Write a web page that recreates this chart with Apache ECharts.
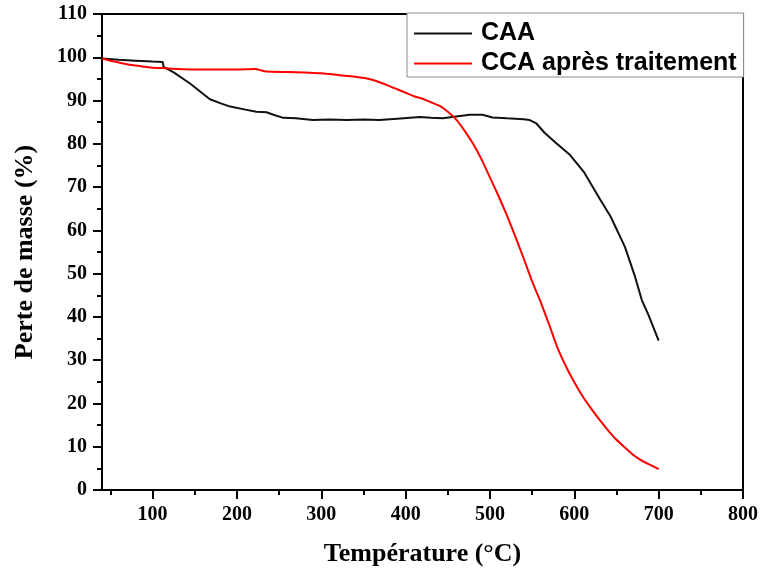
<!DOCTYPE html>
<html>
<head>
<meta charset="utf-8">
<script src="https://cdn.jsdelivr.net/npm/echarts@6/dist/echarts.min.js"></script>
<style>
html,body{margin:0;padding:0;background:#fff;}
#chart{width:761px;height:573px;}
</style>
</head>
<body>
<div id="chart"></div>
<script>
// Temperature (°C) / mass (%) pairs
var caaTemp = [40,60,80,100,112,113,125,144,160,168,180,192,210,223,235,245,255,270,290,310,330,350,369,390,417,430,444,460,476,491,503,520,540,547,555,565,579,595,611,631,643,660,672,680,688,700];
var caaMass = [99.7,99.4,99.2,99.0,98.9,97.8,96.5,94.0,91.5,90.3,89.4,88.6,87.9,87.4,87.3,86.6,86.0,85.9,85.5,85.6,85.5,85.6,85.5,85.8,86.2,86.0,85.9,86.3,86.7,86.7,86.1,85.9,85.7,85.5,84.7,82.5,80.1,77.4,73.6,67.0,63.2,56.2,49.3,43.9,40.4,34.5];

var ccaTemp = [40,50,60,70,80,90,100,112,130,150,180,200,222,228,235,260,280,300,320,340,354,365,380,390,400,410,420,430,440,450,460,470,480,490,500,510,520,530,540,550,560,570,580,590,600,610,620,630,640,650,660,670,680,690,700];
var ccaMass = [99.7,99.2,98.8,98.4,98.1,97.8,97.6,97.5,97.3,97.2,97.2,97.2,97.3,97.0,96.7,96.6,96.5,96.3,95.9,95.5,95.1,94.5,93.4,92.6,91.8,91.0,90.4,89.6,88.8,87.4,85.6,83.0,80.0,76.4,72.2,68.0,63.5,58.6,53.5,48.2,43.5,38.3,32.9,28.6,24.9,21.6,18.8,16.2,13.8,11.6,9.8,8.1,6.8,5.8,4.8];

var xMajorTicks = [100,200,300,400,500,600,700,800];
var xMinorTicks = [50,150,250,350,450,550,650,750];
var seriesNames = ['CAA','CCA après traitement'];

function pairs(xs, ys){ return xs.map(function(x,i){ return [x, ys[i]]; }); }

var serif = '"Liberation Serif", "Times New Roman", serif';
var sans = '"Liberation Sans", Arial, sans-serif';

var chart = echarts.init(document.getElementById('chart'));
chart.setOption({
  animation: false,
  backgroundColor: '#fff',
  grid: { left: 102, right: 17, top: 14, bottom: 83, show: true, borderColor: '#000', borderWidth: 2, backgroundColor: 'transparent' },
  legend: {
    orient: 'vertical', left: 407, top: 13, icon: 'rect',
    padding: [8, 7, 1, 7], itemGap: 5, itemWidth: 58, itemHeight: 2,
    backgroundColor: '#fff', borderColor: '#8a8a8a', borderWidth: 1,
    textStyle: { fontFamily: sans, fontWeight: 'bold', fontSize: 25, color: '#000', lineHeight: 25, padding: [0,0,0,4] },
    data: seriesNames
  },
  xAxis: [{
    type: 'value', min: 40, max: 800,
    name: 'Température (°C)', nameLocation: 'middle', nameGap: 51,
    nameTextStyle: { fontFamily: serif, fontWeight: 'bold', fontSize: 26, color: '#000' },
    axisLine: { show: true, lineStyle: { color: '#000', width: 2 } },
    axisTick: { show: true, length: 9, inside: false, customValues: xMajorTicks, lineStyle: { color: '#000', width: 2 } },
    axisLabel: { customValues: xMajorTicks, margin: 15, fontFamily: serif, fontWeight: 'bold', fontSize: 20, color: '#000' },
    splitLine: { show: false }
  }, {
    type: 'value', min: 40, max: 800, position: 'bottom',
    axisLine: { show: false },
    axisTick: { show: true, length: 5, inside: false, customValues: xMinorTicks, lineStyle: { color: '#000', width: 2 } },
    axisLabel: { show: false },
    splitLine: { show: false }
  }],
  yAxis: {
    type: 'value', min: 0, max: 110, interval: 10,
    name: 'Perte de masse (%)', nameLocation: 'middle', nameGap: 64, nameRotate: 90,
    nameTextStyle: { fontFamily: serif, fontWeight: 'bold', fontSize: 26, color: '#000', padding: [0, 0, 0, 0] },
    axisLine: { show: true, lineStyle: { color: '#000', width: 2 } },
    axisTick: { show: true, length: 9, inside: false, lineStyle: { color: '#000', width: 2 } },
    minorTick: { show: true, splitNumber: 2, length: 5, lineStyle: { color: '#000', width: 2 } },
    axisLabel: { margin: 15, fontFamily: serif, fontWeight: 'bold', fontSize: 20, color: '#000' },
    splitLine: { show: false }
  },
  series: [{
    name: seriesNames[0], type: 'line', xAxisIndex: 0, symbol: 'none',
    lineStyle: { color: '#111', width: 2 }, itemStyle: { color: '#111' },
    data: pairs(caaTemp, caaMass)
  }, {
    name: seriesNames[1], type: 'line', xAxisIndex: 0, symbol: 'none', smooth: 0.2,
    lineStyle: { color: '#ff0000', width: 2 }, itemStyle: { color: '#ff0000' },
    data: pairs(ccaTemp, ccaMass)
  }]
});
</script>
</body>
</html>
